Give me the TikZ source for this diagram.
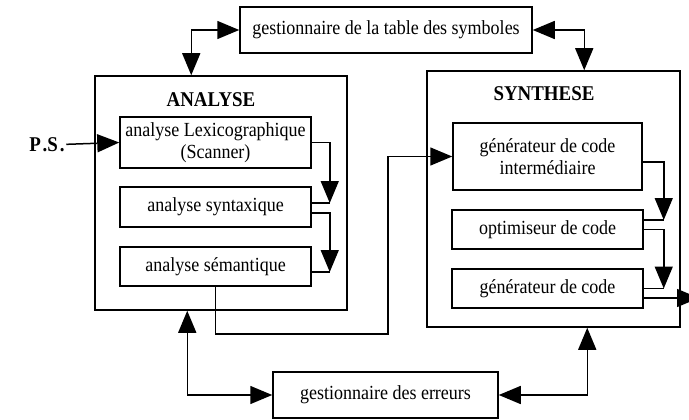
\documentclass[tikz,border=0pt]{standalone}
\usepackage{fontspec}
\setmainfont[FakeStretch=0.9]{Liberation Serif}
\usetikzlibrary{arrows.meta}

\begin{document}
\begin{tikzpicture}[x=1pt, y=-1pt, line width=1.5pt,
    box/.style={draw, rectangle, inner sep=0pt, align=center, font=\fontsize{20}{22}\selectfont},
    titre/.style={font=\fontsize{21}{22}\selectfont\bfseries},
    fl/.style={-{Triangle[length=22pt,width=18pt]}},
    fll/.style={{Triangle[length=22pt,width=18pt]}-{Triangle[length=22pt,width=18pt]}}]
            \useasboundingbox (0,0) rectangle (689,420);

            % les deux grandes parties
            \node[box, minimum width=252pt, minimum height=234pt] (ana) at (221,193) {};
            \node[box, minimum width=253pt, minimum height=256pt] (syn) at (553.5,199) {};
            \node[titre] (tana) at (211,100) {ANALYSE};
            \node[titre] (tsyn) at (544,94) {SYNTHESE};

            \node[box, minimum width=292pt, minimum height=46pt] (tbl) at (386,30) {gestionnaire de la table des symboles};
            \node[box, minimum width=225pt, minimum height=46pt] (err) at (385.5,395) {gestionnaire des erreurs};

            \node[box, minimum width=191pt, minimum height=51pt] (lex) at (215.5,142.5) {analyse Lexicographique\\(Scanner)};
            \node[box, minimum width=191pt, minimum height=40pt] (syx) at (215.5,207) {analyse syntaxique};
            \node[box, minimum width=191pt, minimum height=39pt] (sem) at (215.5,266.5) {analyse sémantique};

            \node[box, minimum width=189pt, minimum height=67pt] (gci) at (547.5,156.5) {générateur de code\\intermédiaire};
            \node[box, minimum width=191pt, minimum height=39pt] (opt) at (547.5,229.5) {optimiseur de code};
            \node[box, minimum width=191pt, minimum height=39pt] (gen) at (547.5,288.5) {générateur de code};

            \node[titre, inner sep=1pt] (ps) at (47,145) {P\kern1.5pt.S\kern2pt.};
            \coordinate (turn) at (388,334);
            \coordinate (sortie) at (699,298);

            \draw[fl] (ps) -- (lex.west);
            \draw[fll] (tbl.west) -| ([xshift=97pt]ana.north west);
            \draw[fll] (tbl.east) -| ([xshift=158pt]syn.north west);
            \draw[fll] (err.west) -| ([xshift=93pt]ana.south west);
            \draw[fll] (err.east) -| ([xshift=161pt]syn.south west);

            \draw[fl] (lex.east) -| ([xshift=18pt,yshift=4pt]syx.east);
            \draw ([yshift=4pt]syx.east) -- ++(18,0);
            \draw[fl] ([yshift=-6pt]syx.east) -| ([xshift=18pt,yshift=-5.5pt]sem.east);
            \draw ([yshift=-5.5pt]sem.east) -- ++(18,0);

            \draw[fl] (sem.south) |- (turn) |- (gci.west);

            \draw[fl] ([yshift=-5.5pt]gci.east) -| ([xshift=20pt,yshift=9.5pt]opt.east);
            \draw ([yshift=9.5pt]opt.east) -- ++(20,0);
            \draw[fl] (opt.east) -| ([xshift=20pt]gen.east);
            \draw (gen.east) -- ++(20,0);
            \draw[fl] ([yshift=-9.5pt]gen.east) -- (sortie);
        \end{tikzpicture}
\end{document}
